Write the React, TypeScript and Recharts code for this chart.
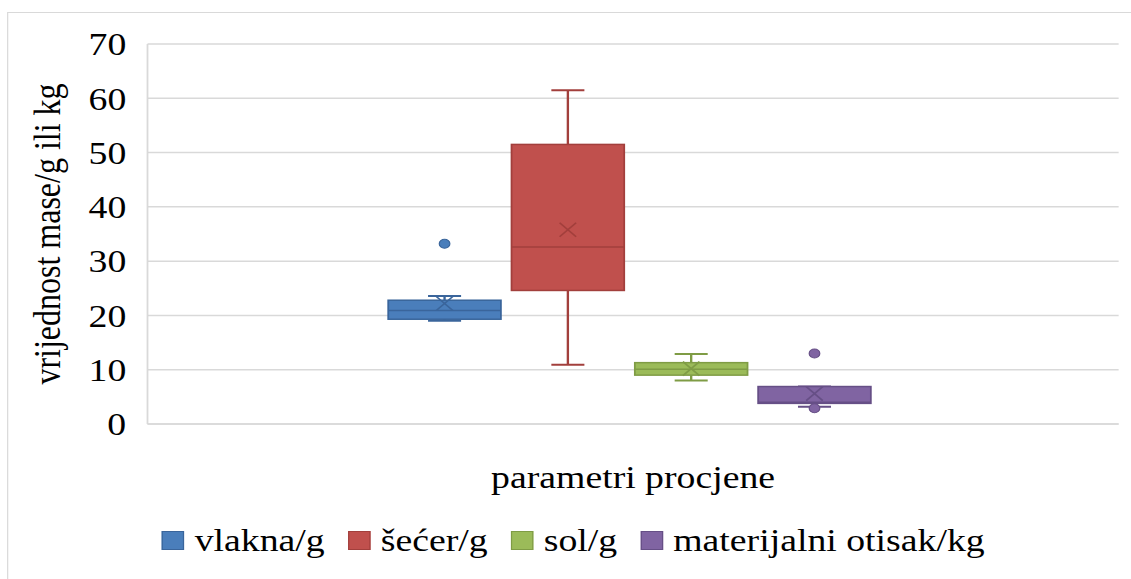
import React from 'react';
import { ComposedChart, Bar, XAxis, YAxis, CartesianGrid, Legend, Label } from 'recharts';

// ---- data ----
const categories = ['parametri procjene'];
const seriesNames = ['vlakna/g', 'šećer/g', 'sol/g', 'materijalni otisak/kg'];
const mins = [19.0, 10.9, 8.0, 3.2];
const q1s = [19.3, 24.6, 9.0, 3.8];
const medians = [20.9, 32.6, 10.1, 4.0];
const q3s = [22.8, 51.5, 11.3, 6.9];
const maxs = [23.6, 61.5, 12.9, 6.9];
const means = [22.2, 35.8, 10.2, 5.6];
const outliers: number[][] = [[33.2], [], [], [13.0, 2.9]];
const yTicks = [0, 10, 20, 30, 40, 50, 60, 70];

const fills = ['#4a7ebb', '#c0504d', '#9bbb59', '#8064a2'];
const strokes = ['#3a659b', '#a23f3c', '#7f9c45', '#664f86'];

const FONT = '"Liberation Serif", "Times New Roman", serif';
const SX = 1.18;

const row: Record<string, any> = { name: categories[0] };
seriesNames.forEach((_, i) => {
  row[`base${i}`] = q1s[i];
  row[`box${i}`] = q3s[i] - q1s[i];
});
const data = [row];

const makeBoxShape = (i: number) => (props: any) => {
  const { x, y, width, height } = props;
  const q1 = q1s[i];
  const q3 = q3s[i];
  const k = height / (q3 - q1);
  const yOf = (v: number) => y + height - (v - q1) * k;
  const cx = x + width / 2;
  const cap = 14;
  const st = strokes[i];
  const ym = yOf(means[i]);
  const xs = 7;
  return (
    <g>
      <line x1={cx} x2={cx} y1={yOf(maxs[i])} y2={y} stroke={st} strokeWidth={2} />
      <line x1={cx} x2={cx} y1={y + height} y2={yOf(mins[i])} stroke={st} strokeWidth={2} />
      <line x1={cx - cap} x2={cx + cap} y1={yOf(maxs[i])} y2={yOf(maxs[i])} stroke={st} strokeWidth={2} />
      <line x1={cx - cap} x2={cx + cap} y1={yOf(mins[i])} y2={yOf(mins[i])} stroke={st} strokeWidth={2} />
      <rect x={x} y={y} width={width} height={height} fill={fills[i]} stroke={st} strokeWidth={1.5} />
      <line x1={x} x2={x + width} y1={yOf(medians[i])} y2={yOf(medians[i])} stroke={st} strokeWidth={1.5} />
      <line x1={cx - xs} x2={cx + xs} y1={ym - xs} y2={ym + xs} stroke={st} strokeWidth={1.5} />
      <line x1={cx - xs} x2={cx + xs} y1={ym + xs} y2={ym - xs} stroke={st} strokeWidth={1.5} />
      {outliers[i].map((o, j) => (
        <circle key={j} cx={cx} cy={yOf(o)} r={4.5} fill={fills[i]} stroke={st} strokeWidth={1} />
      ))}
    </g>
  );
};

const renderLegend = () => (
  <div
    style={{
      display: 'flex',
      alignItems: 'center',
      fontFamily: FONT,
      fontSize: 32,
      lineHeight: '36px',
      color: '#000',
      whiteSpace: 'nowrap',
    }}
  >
    {seriesNames.map((n, i) => (
      <div key={n} style={{ display: 'flex', alignItems: 'center', marginRight: i < 3 ? 19.5 : 0 }}>
        <span
          style={{
            display: 'inline-block',
            width: 19,
            height: 19,
            background: fills[i],
            border: `1px solid ${strokes[i]}`,
            boxSizing: 'border-box',
            marginRight: 9,
          }}
        />
        <span>{n}</span>
      </div>
    ))}
  </div>
);

export default function App() {
  return (
    <div style={{ position: 'absolute', left: 0, top: 0, width: 1131, height: 579, overflow: 'hidden', background: '#fff' }}>
      <div
        style={{
          position: 'absolute',
          left: 0,
          top: 0,
          width: 958,
          height: 579,
          transform: `scaleX(${SX})`,
          transformOrigin: '0 0',
        }}
      >
        <div
          style={{
            position: 'absolute',
            left: 6,
            top: 12,
            width: 1000,
            height: 1000,
            border: '1px solid #d9d9d9',
          }}
        />
        <div style={{ position: 'absolute', left: 0, top: 0 }}>
          <ComposedChart
            width={958}
            height={579}
            data={data}
            margin={{ top: 44, right: 10, left: 0, bottom: 0 }}
            barSize={95.5}
            barGap={9}
          >
            <CartesianGrid vertical={false} stroke="#d9d9d9" strokeWidth={1.5} />
            <XAxis
              dataKey="name"
              height={155}
              tick={false}
              tickLine={false}
              padding={{ left: 0, right: 7 }}
              axisLine={{ stroke: '#d9d9d9', strokeWidth: 1.5 }}
            >
              <Label
                value="parametri procjene"
                position="insideTop"
                offset={41}
                style={{ fontFamily: FONT, fontSize: 32, fill: '#000' }}
              />
            </XAxis>
            <YAxis
              width={125}
              domain={[0, 70]}
              ticks={yTicks}
              interval={0}
              tickLine={false}
              tickSize={0}
              tickMargin={18}
              axisLine={{ stroke: '#d9d9d9', strokeWidth: 1.5 }}
              tick={{ fontFamily: FONT, fontSize: 32, fill: '#000' }}
            >
              <Label
                value="vrijednost mase/g ili kg"
                angle={-90}
                position="center"
                dx={-23}
                style={{ fontFamily: FONT, fontSize: 32, fill: '#000', textAnchor: 'middle' }}
              />
            </YAxis>
            <Legend
              verticalAlign="middle"
              align="center"
              content={renderLegend}
              wrapperStyle={{ left: 137, top: 522, width: 'auto', height: 'auto' }}
            />
            {seriesNames.map((n, i) => [
              <Bar
                key={`b${i}`}
                dataKey={`base${i}`}
                stackId={`s${i}`}
                fill="transparent"
                legendType="none"
                isAnimationActive={false}
              />,
              <Bar
                key={`x${i}`}
                dataKey={`box${i}`}
                name={n}
                stackId={`s${i}`}
                fill={fills[i]}
                shape={makeBoxShape(i)}
                isAnimationActive={false}
              />,
            ])}
          </ComposedChart>
        </div>
      </div>
    </div>
  );
}
